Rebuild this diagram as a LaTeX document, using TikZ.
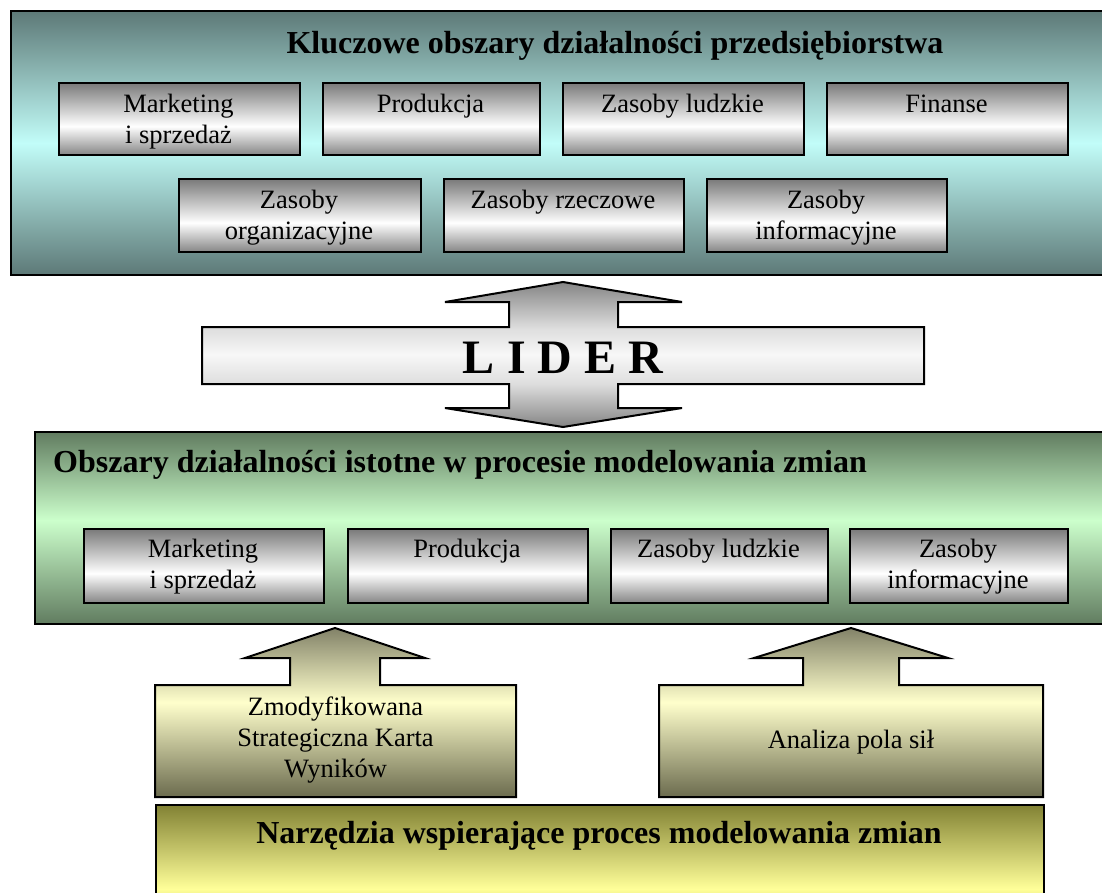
\documentclass[tikz,border=0pt]{standalone}
\usepackage{fontspec}
\setmainfont{Liberation Serif}

% colours of the panels and boxes
\definecolor{tealDark}{HTML}{5D7977}
\definecolor{tealLight}{HTML}{C2FDF9}
\definecolor{greenDark}{HTML}{617C60}
\definecolor{greenLight}{HTML}{CCFFCC}
\definecolor{boxGrey}{HTML}{7A7A7A}
\definecolor{boxGreyB}{HTML}{858585}
\definecolor{oliveTip}{HTML}{828268}
\definecolor{oliveBottom}{HTML}{6B6B4E}
\definecolor{creamLight}{HTML}{FFFFCC}
\definecolor{olivePanel}{HTML}{828234}
\definecolor{yellowLight}{HTML}{FFFF99}
\definecolor{crossGrey}{HTML}{858585}
\definecolor{crossMid}{HTML}{DEDEDE}

% vertical shadings (25bp = bottom edge, 75bp = top edge of the filled path)
\pgfdeclareverticalshading{tealpanel}{100bp}{color(0bp)=(tealDark); color(25bp)=(tealDark);
  color(50bp)=(tealLight); color(75bp)=(tealDark); color(100bp)=(tealDark)}
\pgfdeclareverticalshading{greenpanel}{100bp}{color(0bp)=(greenDark); color(25bp)=(greenDark);
  color(52bp)=(greenLight); color(75bp)=(greenDark); color(100bp)=(greenDark)}
\pgfdeclareverticalshading{greybox}{100bp}{color(0bp)=(boxGreyB); color(25bp)=(boxGreyB);
  color(45bp)=(white); color(75bp)=(boxGrey); color(100bp)=(boxGrey)}
\pgfdeclareverticalshading{toolarrow}{100bp}{color(0bp)=(oliveBottom); color(25bp)=(oliveBottom);
  color(53bp)=(creamLight); color(75bp)=(oliveTip); color(100bp)=(oliveTip)}
\pgfdeclareverticalshading{toolpanel}{100bp}{color(0bp)=(olivePanel); color(25bp)=(olivePanel);
  color(47bp)=(yellowLight); color(75bp)=(olivePanel); color(100bp)=(olivePanel)}
\pgfdeclareverticalshading{leadercross}{100bp}{color(0bp)=(crossGrey); color(25bp)=(crossGrey);
  color(40bp)=(crossMid); color(50bp)=(white!97!black); color(59bp)=(crossMid);
  color(75bp)=(crossGrey); color(100bp)=(crossGrey)}

\begin{document}
\begin{tikzpicture}[x=1pt,y=-1pt,
  outline/.style={draw=black, line width=2pt},
  panel/.style={outline, rectangle, inner sep=0pt, anchor=north west},
  areabox/.style={outline, rectangle, inner sep=0pt, anchor=north west, shading=greybox},
  lbl/.style={inner sep=0pt, align=center, anchor=north, font=\fontsize{26.5}{31}\selectfont},
  heading/.style={inner sep=0pt, font=\fontsize{32}{36}\selectfont\bfseries},
]
\useasboundingbox (0,0) rectangle (1102,892);
\clip (0,0) rectangle (1102,892);

% ---------- key areas of the enterprise ----------
\node[panel, shading=tealpanel, minimum width=1110pt, minimum height=264pt] (key) at (10,10) {};
\node[heading, anchor=base] (keyT) at (615,53) {Kluczowe obszary działalności przedsiębiorstwa};

\node[areabox, minimum width=241pt, minimum height=72pt] (k1) at (58,82) {};
\node[areabox, minimum width=217pt, minimum height=72pt] (k2) at (322,82) {};
\node[areabox, minimum width=241pt, minimum height=72pt] (k3) at (562,82) {};
\node[areabox, minimum width=241pt, minimum height=72pt] (k4) at (826,82) {};
\node[areabox, minimum width=242pt, minimum height=73pt] (k5) at (178,178) {};
\node[areabox, minimum width=240pt, minimum height=73pt] (k6) at (443,178) {};
\node[areabox, minimum width=240pt, minimum height=73pt] (k7) at (706,178) {};

\node[lbl] (k1t) at (178.5,90.3) {\strut Marketing\\i sprzedaż};
\node[lbl] (k2t) at (430.5,90.3) {\strut Produkcja};
\node[lbl] (k3t) at (682.5,90.3) {\strut Zasoby ludzkie};
\node[lbl] (k4t) at (946.5,90.3) {\strut Finanse};
\node[lbl] (k5t) at (299,186.3) {\strut Zasoby\\organizacyjne};
\node[lbl] (k6t) at (563,186.3) {\strut Zasoby rzeczowe};
\node[lbl] (k7t) at (826,186.3) {\strut Zasoby\\informacyjne};

% ---------- leader: two-way arrow crossing a bar ----------
\path[outline, shading=leadercross]
  (563,282) -- (682,302) -- (618,302) -- (618,327) -- (924,327) -- (924,384)
  -- (618,384) -- (618,408) -- (682,408) -- (563,427) -- (445,408) -- (509,408)
  -- (509,384) -- (202,384) -- (202,327) -- (509,327) -- (509,302) -- (445,302) -- cycle;
\node[inner sep=0pt, anchor=base, font=\fontsize{48}{52}\selectfont\bfseries] (leader) at (563,373) {L I D E R};

% ---------- areas relevant to modelling change ----------
\node[panel, shading=greenpanel, minimum width=1080pt, minimum height=192pt] (rel) at (34,431) {};
\node[heading, anchor=base west] (relT) at (53,472) {Obszary działalności istotne w procesie modelowania zmian};

\node[areabox, minimum width=240pt, minimum height=74pt] (r1) at (83,528) {};
\node[areabox, minimum width=240pt, minimum height=74pt] (r2) at (347,528) {};
\node[areabox, minimum width=217pt, minimum height=74pt] (r3) at (610,528) {};
\node[areabox, minimum width=218pt, minimum height=74pt] (r4) at (849,528) {};

\node[lbl] (r1t) at (203,535.3) {\strut Marketing\\i sprzedaż};
\node[lbl] (r2t) at (467,535.3) {\strut Produkcja};
\node[lbl] (r3t) at (718.5,535.3) {\strut Zasoby ludzkie};
\node[lbl] (r4t) at (958,535.3) {\strut Zasoby\\informacyjne};

% ---------- tools: boxes with upward arrows ----------
\path[outline, shading=toolarrow]
  (155,797) -- (155,685) -- (290,685) -- (290,658) -- (245,658) -- (335,628)
  -- (425,658) -- (380,658) -- (380,685) -- (516,685) -- (516,797) -- cycle;
\path[outline, shading=toolarrow]
  (659,797) -- (659,685) -- (803,685) -- (803,658) -- (754,658) -- (851,628)
  -- (948,658) -- (899,658) -- (899,685) -- (1043,685) -- (1043,797) -- cycle;

\node[lbl] (bsc) at (335.5,693.3) {\strut Zmodyfikowana\\Strategiczna Karta\\Wyników};
\node[lbl, anchor=base] (ffa) at (851,748) {Analiza pola sił};

\node[panel, shading=toolpanel, minimum width=888pt, minimum height=150pt] (tools) at (155,804) {};
\node[heading, anchor=base] (toolsT) at (599,843) {Narzędzia wspierające proces modelowania zmian};
\end{tikzpicture}
\end{document}
